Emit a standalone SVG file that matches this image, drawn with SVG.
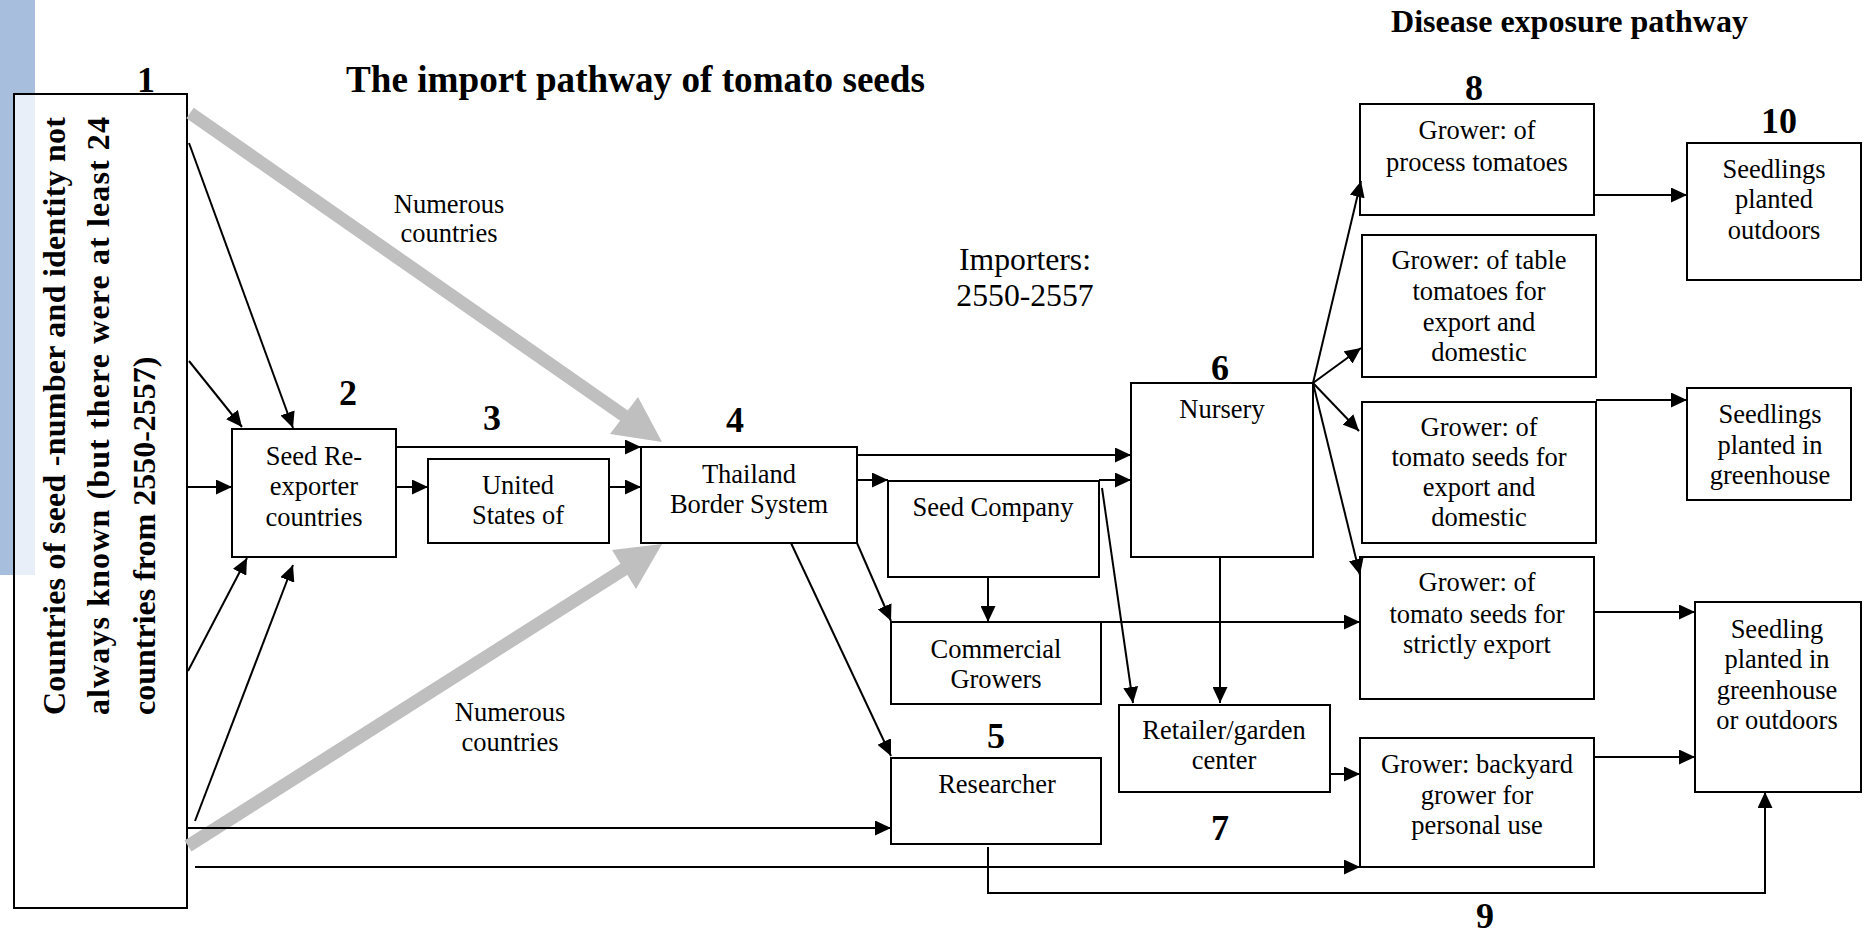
<svg xmlns="http://www.w3.org/2000/svg" width="1865" height="937" viewBox="0 0 1865 937">
<defs>
<marker id="ah" markerUnits="userSpaceOnUse" markerWidth="17" markerHeight="15" refX="16" refY="7.5" orient="auto">
<path d="M0,0 L16,7.5 L0,15 z" fill="#000"/>
</marker>
<style>
.box{fill:#fff;stroke:#000;stroke-width:2}
.t{font-family:"Liberation Serif","Times New Roman",serif;font-size:26.5px;fill:#000;text-anchor:middle}
.imp{font-family:"Liberation Serif","Times New Roman",serif;font-size:31.7px;fill:#000;text-anchor:middle}
.num{font-family:"Liberation Serif","Times New Roman",serif;font-size:36px;font-weight:bold;fill:#000;text-anchor:middle}
.ttl{font-family:"Liberation Serif","Times New Roman",serif;font-weight:bold;fill:#000}
.rot{font-family:"Liberation Serif","Times New Roman",serif;font-size:32px;font-weight:bold;fill:#000}
.c{fill:none;stroke:#000;stroke-width:2;marker-end:url(#ah)}
.g{fill:#bfbfbf}
</style>
</defs>
<rect width="1865" height="937" fill="#fff"/>
<rect x="0" y="0" width="35" height="575" fill="#a7bfdd"/>

<g id="titles">
<text class="ttl" x="346" y="92" font-size="37" textLength="579" lengthAdjust="spacingAndGlyphs">The import pathway of tomato seeds</text>
<text class="ttl" x="1391" y="32" font-size="31" textLength="357" lengthAdjust="spacingAndGlyphs">Disease exposure pathway</text>
<text class="imp" x="1025" y="270">Importers:</text>
<text class="imp" x="1025" y="306">2550-2557</text>
<text class="t" x="449" y="213">Numerous</text>
<text class="t" x="449" y="242">countries</text>
<text class="t" x="510" y="721">Numerous</text>
<text class="t" x="510" y="751">countries</text>
</g>

<g id="labels">
<text class="num" x="146" y="92">1</text>
<text class="num" x="348" y="405">2</text>
<text class="num" x="492" y="430">3</text>
<text class="num" x="735" y="432">4</text>
<text class="num" x="996" y="748">5</text>
<text class="num" x="1220" y="380">6</text>
<text class="num" x="1220" y="840">7</text>
<text class="num" x="1474" y="100">8</text>
<text class="num" x="1485" y="928">9</text>
<text class="num" x="1779" y="133">10</text>
</g>

<g id="n1">
<rect class="box" x="14" y="94" width="173" height="814"/>
<rect x="15" y="95" width="20" height="480" fill="#e9eff8"/>
<text class="rot" transform="translate(65,715) rotate(-90)" textLength="598" lengthAdjust="spacing">Countries of seed -number and identity not</text>
<text class="rot" transform="translate(109,715) rotate(-90)" textLength="598" lengthAdjust="spacing">always known (but there were at least 24</text>
<text class="rot" transform="translate(155,715) rotate(-90)">countries from 2550-2557)</text>
</g>

<g id="gray-arrows">
<line x1="190" y1="113" x2="626" y2="417" stroke="#bfbfbf" stroke-width="13"/>
<polygon class="g" points="662,442 610,434 638,397"/>
<line x1="188" y1="846" x2="626" y2="568" stroke="#bfbfbf" stroke-width="13"/>
<polygon class="g" points="662,544 612,550 636,589"/>
</g>

<g id="n2"><rect class="box" x="232" y="429" width="164" height="128"/>
<text class="t" x="314" y="465">Seed Re-</text><text class="t" x="314" y="495">exporter</text><text class="t" x="314" y="526">countries</text></g>
<g id="n3"><rect class="box" x="428" y="459" width="181" height="84"/>
<text class="t" x="518" y="494">United</text><text class="t" x="518" y="524">States of</text></g>
<g id="n4"><rect class="box" x="641" y="447" width="216" height="96"/>
<text class="t" x="749" y="483">Thailand</text><text class="t" x="749" y="513">Border System</text></g>
<g id="n-seedco"><rect class="box" x="888" y="481" width="211" height="96"/>
<text class="t" x="993" y="516">Seed Company</text></g>
<g id="n-commercial"><rect class="box" x="891" y="622" width="210" height="82"/>
<text class="t" x="996" y="658">Commercial</text><text class="t" x="996" y="688">Growers</text></g>
<g id="n5"><rect class="box" x="891" y="758" width="210" height="86"/>
<text class="t" x="997" y="793">Researcher</text></g>
<g id="n6"><rect class="box" x="1131" y="383" width="182" height="174"/>
<text class="t" x="1222" y="418">Nursery</text></g>
<g id="n7"><rect class="box" x="1119" y="705" width="211" height="87"/>
<text class="t" x="1224" y="739">Retailer/garden</text><text class="t" x="1224" y="769">center</text></g>
<g id="n8"><rect class="box" x="1360" y="104" width="234" height="111"/>
<text class="t" x="1477" y="139">Grower: of</text><text class="t" x="1477" y="171">process tomatoes</text></g>
<g id="n-table"><rect class="box" x="1362" y="235" width="234" height="142"/>
<text class="t" x="1479" y="269">Grower: of table</text><text class="t" x="1479" y="300">tomatoes for</text><text class="t" x="1479" y="331">export and</text><text class="t" x="1479" y="361">domestic</text></g>
<g id="n-seeds-dom"><rect class="box" x="1362" y="402" width="234" height="141"/>
<text class="t" x="1479" y="436">Grower: of</text><text class="t" x="1479" y="466">tomato seeds for</text><text class="t" x="1479" y="496">export and</text><text class="t" x="1479" y="526">domestic</text></g>
<g id="n-strict"><rect class="box" x="1360" y="557" width="234" height="142"/>
<text class="t" x="1477" y="591">Grower: of</text><text class="t" x="1477" y="623">tomato seeds for</text><text class="t" x="1477" y="653">strictly export</text></g>
<g id="n-backyard"><rect class="box" x="1360" y="738" width="234" height="129"/>
<text class="t" x="1477" y="773">Grower: backyard</text><text class="t" x="1477" y="804">grower for</text><text class="t" x="1477" y="834">personal use</text></g>
<g id="n10"><rect class="box" x="1687" y="143" width="174" height="137"/>
<text class="t" x="1774" y="178">Seedlings</text><text class="t" x="1774" y="208">planted</text><text class="t" x="1774" y="239">outdoors</text></g>
<g id="n-greenhouse"><rect class="box" x="1687" y="388" width="164" height="112"/>
<text class="t" x="1770" y="423">Seedlings</text><text class="t" x="1770" y="454">planted in</text><text class="t" x="1770" y="484">greenhouse</text></g>
<g id="n-seedling"><rect class="box" x="1695" y="602" width="166" height="190"/>
<text class="t" x="1777" y="638">Seedling</text><text class="t" x="1777" y="668">planted in</text><text class="t" x="1777" y="699">greenhouse</text><text class="t" x="1777" y="729">or outdoors</text></g>

<g id="connectors">
<line class="c" x1="189" y1="143" x2="293" y2="428"/>
<line class="c" x1="189" y1="361" x2="242" y2="427"/>
<line class="c" x1="188" y1="487" x2="232" y2="487"/>
<line class="c" x1="188" y1="671" x2="247" y2="558"/>
<line class="c" x1="195" y1="821" x2="293" y2="565"/>
<line class="c" x1="396" y1="447" x2="641" y2="447"/>
<line class="c" x1="396" y1="487" x2="428" y2="487"/>
<line class="c" x1="609" y1="487" x2="641" y2="487"/>
<line class="c" x1="857" y1="455" x2="1131" y2="455"/>
<line class="c" x1="857" y1="480" x2="888" y2="480"/>
<line class="c" x1="1099" y1="480" x2="1131" y2="480"/>
<line class="c" x1="988" y1="577" x2="988" y2="622"/>
<line class="c" x1="857" y1="543" x2="891" y2="621"/>
<line class="c" x1="791" y1="543" x2="891" y2="756"/>
<line class="c" x1="188" y1="828" x2="891" y2="828"/>
<line class="c" x1="195" y1="867" x2="1360" y2="867"/>
<line class="c" x1="1102" y1="488" x2="1133" y2="703"/>
<line class="c" x1="1220" y1="557" x2="1220" y2="703"/>
<line class="c" x1="1101" y1="622" x2="1360" y2="622"/>
<line class="c" x1="1330" y1="774" x2="1360" y2="774"/>
<line class="c" x1="1594" y1="195" x2="1687" y2="195"/>
<line class="c" x1="1596" y1="400" x2="1687" y2="400"/>
<line class="c" x1="1594" y1="612" x2="1695" y2="612"/>
<line class="c" x1="1594" y1="757" x2="1695" y2="757"/>
<polyline class="c" points="988,847 988,893 1765,893 1765,792"/>
<line class="c" x1="1313" y1="383" x2="1361" y2="181"/>
<line class="c" x1="1313" y1="383" x2="1361" y2="348"/>
<line class="c" x1="1313" y1="383" x2="1359" y2="431"/>
<line class="c" x1="1313" y1="383" x2="1360" y2="575"/>
</g>
</svg>
